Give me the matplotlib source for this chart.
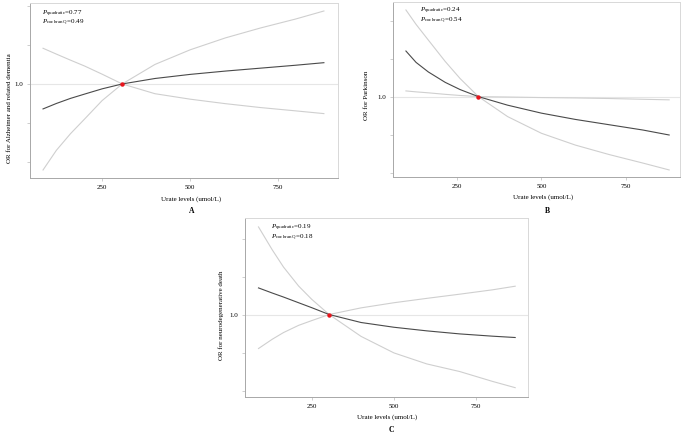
import numpy as np
import matplotlib
matplotlib.use("Agg")
import matplotlib.pyplot as plt

plt.rcParams['font.family'] = ['Liberation Serif', 'DejaVu Serif']
plt.rcParams['mathtext.fontset'] = 'custom'
plt.rcParams['mathtext.rm'] = 'Liberation Serif'
plt.rcParams['mathtext.it'] = 'Liberation Serif:italic'

# ---- Panel A: Alzheimer and related dementia
a_x = [82, 120, 160, 200, 250, 307, 400, 500, 600, 700, 800, 880]
a_or = [0.872, 0.900, 0.926, 0.948, 0.975, 1.0, 1.028, 1.049, 1.066, 1.081, 1.096, 1.109]
a_ci1 = [0.559, 0.66, 0.745, 0.82, 0.915, 1.0, 1.10, 1.175, 1.236, 1.287, 1.333, 1.374]
a_ci2 = [1.183, 1.153, 1.122, 1.092, 1.05, 1.0, 0.950, 0.922, 0.899, 0.879, 0.862, 0.848]
a_ref = 307
a_p = ["0.77", "0.49"]

# ---- Panel B: Parkinson
b_x = [100, 130, 166, 216, 260, 314, 400, 500, 600, 700, 800, 877]
b_or = [1.24, 1.18, 1.13, 1.075, 1.037, 1.0, 0.955, 0.913, 0.880, 0.852, 0.824, 0.798]
b_ci1 = [1.456, 1.38, 1.298, 1.185, 1.095, 1.0, 0.895, 0.807, 0.745, 0.695, 0.65, 0.614]
b_ci2 = [1.03, 1.025, 1.02, 1.012, 1.006, 1.0, 0.998, 0.995, 0.993, 0.99, 0.986, 0.983]
b_ref = 314
b_p = ["0.24", "0.54"]

# ---- Panel C: neurodegenerative death
c_x = [88, 130, 164, 210, 250, 303, 400, 500, 600, 700, 800, 869]
c_or = [1.14, 1.113, 1.092, 1.062, 1.036, 1.0, 0.958, 0.933, 0.914, 0.898, 0.886, 0.879]
c_ci1 = [1.461, 1.34, 1.25, 1.15, 1.08, 1.0, 0.885, 0.798, 0.74, 0.70, 0.648, 0.615]
c_ci2 = [0.821, 0.87, 0.905, 0.943, 0.968, 1.0, 1.035, 1.062, 1.085, 1.107, 1.13, 1.149]
c_ref = 303
c_p = ["0.19", "0.18"]

x_ticks = [250, 500, 750]
y_ticks = [0.6, 0.8, 1.0, 1.2, 1.4]
y_ticklabels = ["", "", "1.0", "", ""]

fig = plt.figure(figsize=(6.85, 4.34), dpi=100)

panels = [
    dict(rect=[0.0438, 0.5899, 0.4496, 0.4032], x=a_x, y=a_or, c1=a_ci1, c2=a_ci2,
         ref=a_ref, p=a_p, xlim=(45, 920), ylim=(0.518, 1.415), txt=(0.039, 0.94),
         ylabel="OR for Alzheimer and related dementia", ylab_pos=(10, 108),
         xlab_pos=(191, 199), tag="A", tag_pos=(192, 211)),
    dict(rect=[0.5733, 0.5922, 0.4194, 0.4032], x=b_x, y=b_or, c1=b_ci1, c2=b_ci2,
         ref=b_ref, p=b_p, xlim=(61, 909), ylim=(0.577, 1.498), txt=(0.095, 0.948),
         ylabel="OR for Parkinson", ylab_pos=(367, 95),
         xlab_pos=(543, 197), tag="B", tag_pos=(547, 211)),
    dict(rect=[0.3577, 0.0853, 0.4131, 0.4124], x=c_x, y=c_or, c1=c_ci1, c2=c_ci2,
         ref=c_ref, p=c_p, xlim=(47, 908), ylim=(0.566, 1.508), txt=(0.092, 0.944),
         ylabel="OR for neurodegenerative death", ylab_pos=(221, 315),
         xlab_pos=(387, 417), tag="C", tag_pos=(391, 430)),
]

W, H = 685.0, 434.0
for p in panels:
    ax = fig.add_axes(p["rect"])
    ax.axhline(1.0, color="#e6e6e6", lw=0.8, zorder=1)
    ax.plot(p["x"], p["c1"], color="#cfcfcf", lw=0.8, zorder=2)
    ax.plot(p["x"], p["c2"], color="#cfcfcf", lw=0.8, zorder=2)
    ax.plot(p["x"], p["y"], color="#4a4a4a", lw=0.8, zorder=3)
    ax.plot([p["ref"]], [1.0], 'o', color="#e8141c", ms=2.2, zorder=4)
    ax.set_xlim(*p["xlim"])
    ax.set_ylim(*p["ylim"])
    ax.set_xticks(x_ticks)
    ax.set_xticklabels([str(t) for t in x_ticks])
    ax.set_yticks(y_ticks)
    ax.set_yticklabels(y_ticklabels)
    ax.tick_params(labelsize=5, length=2, width=0.5, color="#bbbbbb", pad=3)
    for s in ["left", "bottom"]:
        ax.spines[s].set_color("#a8a8a8")
        ax.spines[s].set_linewidth(0.7)
    for s in ["top", "right"]:
        ax.spines[s].set_color("#d8d8d8")
        ax.spines[s].set_linewidth(0.7)
    tx, ty = p["txt"]
    ax.text(tx, ty, r"$\it{P}_{\mathrm{quadratic}}$=" + p["p"][0], transform=ax.transAxes,
            fontsize=5, va="center", ha="left")
    ax.text(tx, ty - 0.053, r"$\it{P}_{\mathrm{cochran\ Q}}$=" + p["p"][1], transform=ax.transAxes,
            fontsize=5, va="center", ha="left")
    lx, ly = p["ylab_pos"]
    fig.text(lx / W, 1 - ly / H, p["ylabel"], rotation=90, fontsize=5, ha="center", va="center")
    xx, xy = p["xlab_pos"]
    fig.text(xx / W, 1 - xy / H, "Urate levels (umol/L)", fontsize=5, ha="center", va="center")
    gx, gy = p["tag_pos"]
    fig.text(gx / W, 1 - gy / H, p["tag"], fontsize=5.5, fontweight="bold", ha="center", va="center")

fig.savefig("out.png", dpi=100)
